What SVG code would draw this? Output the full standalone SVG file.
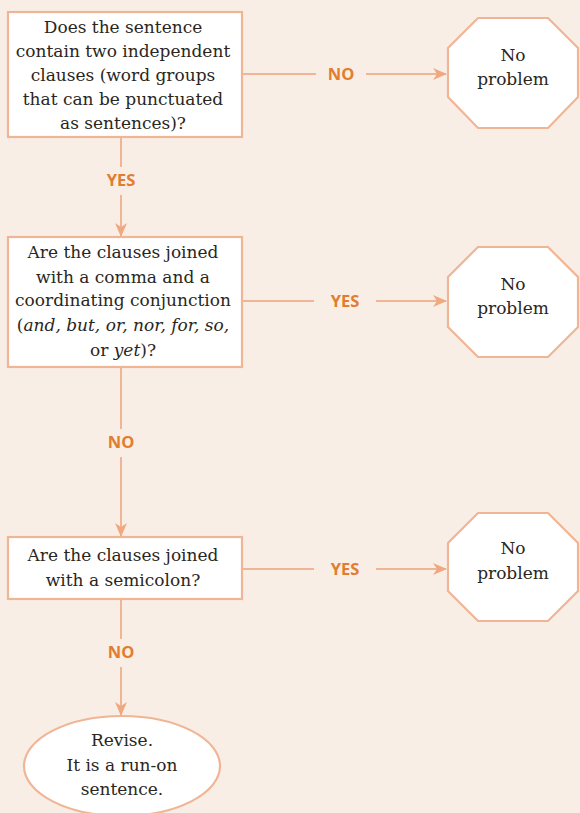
<svg xmlns="http://www.w3.org/2000/svg" width="580" height="813" viewBox="0 0 580 813">
<defs>
<style>
.bg{fill:#f9eee6}
.box{fill:#ffffff;stroke:#f0b595;stroke-width:2.2}
.t{font-family:"DejaVu Serif","Liberation Serif",serif;font-size:17px;fill:#2a2622;text-anchor:middle}
.lab{font-family:"Open Sans","Liberation Sans",sans-serif;font-size:16.5px;font-weight:bold;fill:#e27d2f;text-anchor:middle}
.ln{stroke:#f0b595;stroke-width:2;fill:none}
</style>
<marker id="ah" markerWidth="14" markerHeight="12" refX="13" refY="6" orient="auto" markerUnits="userSpaceOnUse">
<path d="M0,0 L14,6 L0,12 L4,6 Z" fill="#f0a880"/>
</marker>
</defs>
<rect class="bg" x="0" y="0" width="580" height="813"/>
<g id="connectors">
<line class="ln" x1="242" y1="74" x2="316" y2="74"/>
<line class="ln" x1="366" y1="74" x2="446" y2="74" marker-end="url(#ah)"/>
<line class="ln" x1="121" y1="137" x2="121" y2="167"/>
<line class="ln" x1="121" y1="195" x2="121" y2="236" marker-end="url(#ah)"/>
<line class="ln" x1="242" y1="301" x2="314" y2="301"/>
<line class="ln" x1="376" y1="301" x2="446" y2="301" marker-end="url(#ah)"/>
<line class="ln" x1="121" y1="367" x2="121" y2="429"/>
<line class="ln" x1="121" y1="457" x2="121" y2="536" marker-end="url(#ah)"/>
<line class="ln" x1="242" y1="569" x2="314" y2="569"/>
<line class="ln" x1="376" y1="569" x2="446" y2="569" marker-end="url(#ah)"/>
<line class="ln" x1="121" y1="599" x2="121" y2="639"/>
<line class="ln" x1="121" y1="667" x2="121" y2="715" marker-end="url(#ah)"/>
<text class="lab" x="341" y="80">NO</text>
<text class="lab" x="121" y="186">YES</text>
<text class="lab" x="345" y="307">YES</text>
<text class="lab" x="121" y="448">NO</text>
<text class="lab" x="345" y="575">YES</text>
<text class="lab" x="121" y="658">NO</text>
</g>
<g id="q1">
<rect class="box" x="8" y="12" width="234" height="125"/>
<text class="t" x="123" y="33">Does the sentence</text>
<text class="t" x="123" y="57">contain two independent</text>
<text class="t" x="123" y="81">clauses (word groups</text>
<text class="t" x="123" y="105">that can be punctuated</text>
<text class="t" x="123" y="129">as sentences)?</text>
</g>
<g id="ok1">
<polygon class="box" points="478,18 548,18 578,48 578,97 548,128 478,128 448,97 448,48"/>
<text class="t" x="513" y="61">No</text>
<text class="t" x="513" y="85">problem</text>
</g>
<g id="q2">
<rect class="box" x="8" y="237" width="234" height="130"/>
<text class="t" x="123" y="258">Are the clauses joined</text>
<text class="t" x="123" y="283">with a comma and a</text>
<text class="t" x="123" y="306">coordinating conjunction</text>
<text class="t" x="123" y="331">(<tspan font-style="italic">and, but, or, nor, for, so,</tspan></text>
<text class="t" x="123" y="356">or <tspan font-style="italic">yet</tspan>)?</text>
</g>
<g id="ok2">
<polygon class="box" points="478,247 548,247 578,277 578,327 548,357 478,357 448,327 448,277"/>
<text class="t" x="513" y="290">No</text>
<text class="t" x="513" y="314">problem</text>
</g>
<g id="q3">
<rect class="box" x="8" y="537" width="234" height="62"/>
<text class="t" x="123" y="561">Are the clauses joined</text>
<text class="t" x="123" y="586">with a semicolon?</text>
</g>
<g id="ok3">
<polygon class="box" points="478,513 548,513 578,543 578,591 548,621 478,621 448,591 448,543"/>
<text class="t" x="513" y="554">No</text>
<text class="t" x="513" y="579">problem</text>
</g>
<g id="revise">
<ellipse class="box" cx="122" cy="766" rx="98" ry="50"/>
<text class="t" x="122" y="746">Revise.</text>
<text class="t" x="122" y="771">It is a run-on</text>
<text class="t" x="122" y="795">sentence.</text>
</g>
</svg>
